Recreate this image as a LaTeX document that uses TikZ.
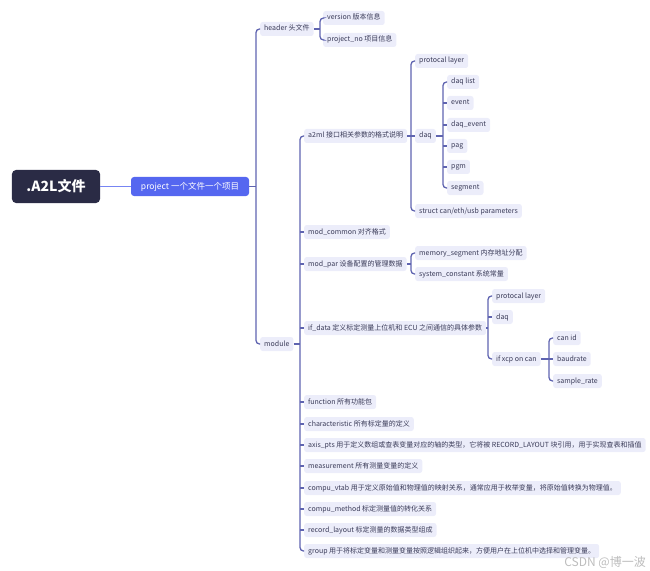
\documentclass[tikz,border=0pt]{standalone}
\usepackage{fontspec}
\setmainfont{Noto Sans CJK SC}
\definecolor{rootfill}{HTML}{2A2B45}
\definecolor{projfill}{HTML}{5567F0}
\definecolor{leaffill}{HTML}{ECEDFA}
\definecolor{txt}{HTML}{3A3B58}
\definecolor{linec}{HTML}{5F64B0}
\definecolor{wm}{HTML}{BDBDBD}
\tikzset{
  leaf/.style={fill=leaffill, rounded corners=2.5bp, text=txt,
    font=\fontsize{7bp}{8bp}\selectfont, inner xsep=4bp, inner ysep=0pt,
    minimum height=14bp, text height=5.5bp, text depth=1.5bp, anchor=west},
  rootbox/.style={fill=rootfill, rounded corners=4bp, text=white,
    font=\fontsize{14bp}{16bp}\selectfont\bfseries, minimum width=88bp, minimum height=33bp, inner sep=0pt},
  projbox/.style={fill=projfill, rounded corners=3bp, text=white,
    font=\fontsize{8.5bp}{10bp}\selectfont, minimum width=118bp, minimum height=19bp, inner sep=0pt},
  conn/.style={draw=linec, line width=1.3bp, rounded corners=3.5bp},
  rootconn/.style={draw=projfill!80, line width=1.3bp}
}
\begin{document}
\begin{tikzpicture}[x=1bp,y=-1bp]
\useasboundingbox (0,0) rectangle (650,571);
% bracket x positions
\coordinate (bT) at (256,0);
\coordinate (bH) at (320,0);
\coordinate (bM) at (300,0);
\coordinate (bA) at (411,0);
\coordinate (bD) at (443,0);
\coordinate (bP) at (411,0);
\coordinate (bI) at (488,0);
\coordinate (bX) at (549,0);

\node[rootbox] (root) at (56,186.5) {.A2L文件};
\node[projbox] (project) at (190,186.5) {project 一个文件一个项目};

\node[leaf] (header) at (260,29) {header 头文件};
\node[leaf] (module) at (260,344) {module};

\node[leaf] (version) at (323,18) {version 版本信息};
\node[leaf] (projno) at (323,40) {project\_no 项目信息};

\node[leaf] (a2ml) at (304,136) {a2ml 接口相关参数的格式说明};
\node[leaf] (modcommon) at (304,232) {mod\_common 对齐格式};
\node[leaf] (modpar) at (304,264) {mod\_par 设备配置的管理数据};
\node[leaf] (ifdata) at (304,328) {if\_data 定义标定测量上位机和 ECU 之间通信的具体参数};
\node[leaf] (function) at (304,402) {function 所有功能包};
\node[leaf] (charac) at (304,424) {characteristic 所有标定量的定义};
\node[leaf] (axispts) at (304,445) {axis\_pts 用于定义数组或查表变量对应的轴的类型，它将被 RECORD\_LAYOUT 块引用，用于实现查表和插值};
\node[leaf] (measure) at (304,466) {measurement 所有测量变量的定义};
\node[leaf] (compuvtab) at (304,488) {compu\_vtab 用于定义原始值和物理值的映射关系，通常应用于枚举变量，将原始值转换为物理值。};
\node[leaf] (compumethod) at (304,509) {compu\_method 标定测量值的转化关系};
\node[leaf] (recordlayout) at (304,530) {record\_layout 标定测量的数据类型组成};
\node[leaf] (group) at (304,551) {group 用于将标定变量和测量变量按照逻辑组织起来，方便用户在上位机中选择和管理变量。};

\node[leaf] (protoA) at (415,61) {protocal layer};
\node[leaf] (daqA) at (415,136) {daq};
\node[leaf] (struct) at (415,211) {struct can/eth/usb parameters};

\node[leaf] (daqlist) at (447,82) {daq list};
\node[leaf] (event) at (447,103) {event};
\node[leaf] (daqevent) at (447,125) {daq\_event};
\node[leaf] (pag) at (447,146) {pag};
\node[leaf] (pgm) at (447,167) {pgm};
\node[leaf] (segment) at (447,188) {segment};

\node[leaf] (memseg) at (415,253) {memory\_segment 内存地址分配};
\node[leaf] (sysconst) at (415,274) {system\_constant 系统常量};

\node[leaf] (protoI) at (492,296) {protocal layer};
\node[leaf] (daqI) at (492,317) {daq};
\node[leaf] (ifxcp) at (492,359) {if xcp on can};

\node[leaf] (canid) at (553,338) {can id};
\node[leaf] (baud) at (553,359) {baudrate};
\node[leaf] (sample) at (553,381) {sample\_rate};

\node[text=wm, font=\fontsize{12bp}{14bp}\selectfont, anchor=east, inner sep=0pt] (wmark) at (646,562) {CSDN @博一波};

% connectors
\draw[rootconn] (root.east) -- (project.west);

\draw[conn] (project.east) -- (project.east -| bT);
\draw[conn] (header.west) -| (bT |- project.east) |- (module.west);

\draw[conn] (header.east) -- (header.east -| bH);
\draw[conn] (version.west) -| (bH |- header.east) |- (projno.west);

\draw[conn] (module.east) -- (module.east -| bM);
\draw[conn] (a2ml.west) -| (bM |- module.east) |- (group.west);
\foreach \n in {modcommon,modpar,ifdata,function,charac,axispts,measure,compuvtab,compumethod,recordlayout}
  \draw[conn] (\n.west -| bM) -- (\n.west);

\draw[conn] (a2ml.east) -- (a2ml.east -| bA);
\draw[conn] (protoA.west) -| (bA |- a2ml.east) |- (struct.west);
\draw[conn] (daqA.west -| bA) -- (daqA.west);

\draw[conn] (daqA.east) -- (daqA.east -| bD);
\draw[conn] (daqlist.west) -| (bD |- daqA.east) |- (segment.west);
\foreach \n in {event,daqevent,pag,pgm}
  \draw[conn] (\n.west -| bD) -- (\n.west);

\draw[conn] (modpar.east) -- (modpar.east -| bP);
\draw[conn] (memseg.west) -| (bP |- modpar.east) |- (sysconst.west);

\draw[conn] (ifdata.east) -- (ifdata.east -| bI);
\draw[conn] (protoI.west) -| (bI |- ifdata.east) |- (ifxcp.west);
\draw[conn] (daqI.west -| bI) -- (daqI.west);

\draw[conn] (ifxcp.east) -- (ifxcp.east -| bX);
\draw[conn] (canid.west) -| (bX |- ifxcp.east) |- (sample.west);
\draw[conn] (baud.west -| bX) -- (baud.west);
\end{tikzpicture}
\end{document}
